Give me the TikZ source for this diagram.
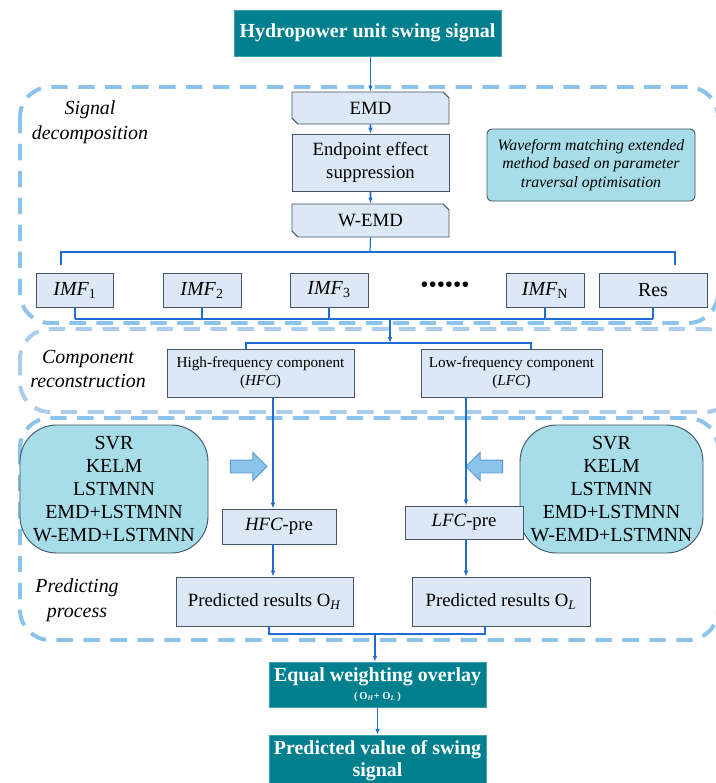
\documentclass[tikz,border=0pt]{standalone}
\usepackage{fontspec}
\setmainfont{LiberationSerif}[Extension=.ttf, UprightFont=*-Regular, BoldFont=*-Bold, ItalicFont=*-Italic, BoldItalicFont=*-BoldItalic]
\usepackage{xcolor}
\usetikzlibrary{shapes.misc, shapes.arrows, arrows.meta, positioning}
\definecolor{tealbox}{HTML}{00808F}
\definecolor{lightbox}{HTML}{DCE8F5}
\definecolor{boxline}{HTML}{44546A}
\definecolor{cyanbox}{HTML}{A6DDE8}
\definecolor{dashblue}{HTML}{8CC3EA}
\definecolor{dashpale}{HTML}{ABCDEB}
\definecolor{arrowblue}{HTML}{1F6DD2}
\definecolor{blockline}{HTML}{5A9BD5}

\begin{document}
\begin{tikzpicture}[
    x=0.03cm, y=-0.03cm,
    region/.style={draw=dashblue, line width=3.4pt, dash pattern=on 14pt off 9pt, rounded corners=0.9cm},
    box/.style={rectangle, draw=boxline, fill=lightbox, line width=0.8pt, align=center, inner sep=2pt, font=\fontsize{16}{19}\selectfont},
    snip/.style={box, chamfered rectangle, chamfered rectangle corners={north east, south west}, chamfered rectangle xsep=2.5pt, chamfered rectangle ysep=2.5pt},
    darkbox/.style={rectangle, fill=tealbox, draw=tealbox!75!white, line width=0.6pt, text=white, align=center, inner sep=2pt, font=\bfseries\fontsize{17}{20}\selectfont},
    model/.style={rectangle, rounded corners=1.1cm, draw=boxline, fill=cyanbox, line width=0.8pt, align=center, font=\fontsize{17}{19.5}\selectfont},
    tag/.style={align=center, font=\itshape\fontsize{17}{21}\selectfont},
    arr/.style={-{Latex[length=5pt,width=4pt]}, line width=1.3pt, arrowblue},
    link/.style={line width=1pt, arrowblue},
    blockarr/.style={single arrow, draw=blockline, fill=dashblue, line width=0.8pt, minimum height=1.1cm, inner sep=0.18cm, single arrow head extend=0.23cm},
  ]
    \useasboundingbox (0,0) rectangle (715,783);

    % dashed stages
    \draw[region] (20,87) rectangle (718,323);
    \draw[region, draw=dashpale] (20,329) rectangle (735,412);
    \draw[region] (20,418) rectangle (718,640);

    \node[tag] (siglab) at (90,122) {Signal\\decomposition};
    \node[tag] (complab) at (88,369) {Component\\reconstruction};
    \node[tag] (predlab) at (77,600) {Predicting\\process};

    % decomposition
    \node[darkbox, minimum width=8.01cm, minimum height=1.38cm] (title) at (367.5,33) {Hydropower unit swing signal};
    \node[snip, minimum width=4.71cm, minimum height=0.96cm] (emd) at (370.5,108) {EMD};
    \node[box, minimum width=4.71cm, minimum height=1.71cm] (endpt) at (370.5,162.5) {Endpoint effect\\suppression};
    \node[snip, minimum width=4.71cm, minimum height=0.99cm] (wemd) at (370.5,220.5) {W-EMD};
    \node[model, rounded corners=4pt, minimum width=6.24cm, minimum height=2.16cm, font=\itshape\fontsize{13.5}{16}\selectfont] (wave) at (591,165) {Waveform matching extended\\method based on parameter\\traversal optimisation};

    \draw[arr] (title.south -| emd.north) -- (emd.north);
    \draw[arr] (emd) -- (endpt);
    \draw[arr] (endpt) -- (wemd);

    \node[box, minimum width=2.31cm, minimum height=1.02cm, font=\itshape\fontsize{17}{19}\selectfont] (imf1) at (75,290) {IMF\textup{\textsubscript{1}}};
    \node[box, minimum width=2.34cm, minimum height=1.02cm, font=\itshape\fontsize{17}{19}\selectfont] (imf2) at (202,290) {IMF\textup{\textsubscript{2}}};
    \node[box, minimum width=2.34cm, minimum height=1.02cm, font=\itshape\fontsize{17}{19}\selectfont] (imf3) at (329,290) {IMF\textup{\textsubscript{3}}};
    \node[font=\fontsize{20}{20}\selectfont, inner sep=0pt] (dots) at (445,287) {••••••};
    \node[box, minimum width=2.34cm, minimum height=1.02cm, font=\itshape\fontsize{17}{19}\selectfont] (imfn) at (545,290) {IMF\textup{\textsubscript{N}}};
    \node[box, minimum width=3.24cm, minimum height=1.02cm, font=\fontsize{17}{19}\selectfont] (res) at (653,290) {Res};

    \coordinate (imfbar) at (370,252);
    \coordinate (barL) at (61,265);
    \coordinate (barR) at (675,265);
    \draw[link] (wemd.south) -- (imfbar);
    \draw[link] (barL) |- (imfbar) -| (barR);

    \coordinate (imfjoin) at (390,319);
    \foreach \n in {imf1,imf2,imf3,imfn,res}
      \draw[link] (\n.south) -- (\n.south |- imfjoin);
    \draw[link] (imf1.south |- imfjoin) -- (res.south |- imfjoin);

    % reconstruction
    \node[box, minimum width=5.61cm, minimum height=1.44cm, font=\fontsize{13}{15}\selectfont] (hfc) at (260.5,373) {High-frequency component\\(\textit{HFC})};
    \node[box, minimum width=5.43cm, minimum height=1.44cm, font=\fontsize{13}{15}\selectfont] (lfc) at (511.5,373) {Low-frequency component\\(\textit{LFC})};

    \coordinate (recbar) at (390,343);
    \coordinate (hfcin) at (246,349);
    \coordinate (lfcin) at (531,349);
    \draw[arr] (imfjoin) -- (recbar);
    \draw[link] (hfcin) |- (recbar) -| (lfcin);

    % prediction
    \node[model, minimum width=5.64cm, minimum height=3.84cm] (modelsL) at (114,489) {SVR\\KELM\\LSTMNN\\EMD+LSTMNN\\W-EMD+LSTMNN};
    \node[model, minimum width=5.49cm, minimum height=3.84cm] (modelsR) at (611.5,489) {SVR\\KELM\\LSTMNN\\EMD+LSTMNN\\W-EMD+LSTMNN};
    \node[blockarr] (hfcarrow) at (245.5,466.5) {};
    \node[blockarr, shape border rotate=180] (lfcarrow) at (487.5,466.5) {};

    \node[box, minimum width=3.42cm, minimum height=1.05cm] (hfcpre) at (279,526.5) {\textit{HFC}-pre};
    \node[box, minimum width=3.54cm, minimum height=0.99cm] (lfcpre) at (464,522.5) {\textit{LFC}-pre};
    \node[box, minimum width=5.31cm, minimum height=1.47cm] (oh) at (264.5,601.5) {Predicted results O\textsubscript{\textit{H}}};
    \node[box, minimum width=5.34cm, minimum height=1.47cm] (ol) at (501,601.5) {Predicted results O\textsubscript{\textit{L}}};

    \coordinate (hfcdown) at (273,397);
    \coordinate (lfcdown) at (466,397);
    \draw[arr] (hfcdown) -- (hfcdown |- hfcpre.north);
    \draw[arr] (lfcdown) -- (lfcdown |- lfcpre.north);
    \draw[arr] (hfcpre.south -| hfcdown) -- (hfcdown |- oh.north);
    \draw[arr] (lfcpre.south -| lfcdown) -- (lfcdown |- ol.north);

    \coordinate (sumbar) at (375,634);
    \coordinate (ohfoot) at (269,626);
    \coordinate (olfoot) at (485,626);
    \draw[link] (ohfoot) |- (sumbar) -| (olfoot);

    % output
    \node[darkbox, minimum width=6.51cm, minimum height=1.35cm] (equal) at (377.5,684.5) {Equal weighting overlay\\[-5pt]{\fontsize{9}{10}\selectfont (\,O\textsubscript{\textit{H}}+ O\textsubscript{\textit{L}}\,)}};
    \node[darkbox, minimum width=6.51cm, minimum height=1.56cm, font=\bfseries\fontsize{17}{18.5}\selectfont] (final) at (377.5,761) {Predicted value of swing\\signal};

    \draw[arr] (sumbar) -- (sumbar |- equal.north);
    \draw[arr] (equal) -- (final);
  \end{tikzpicture}
\end{document}
